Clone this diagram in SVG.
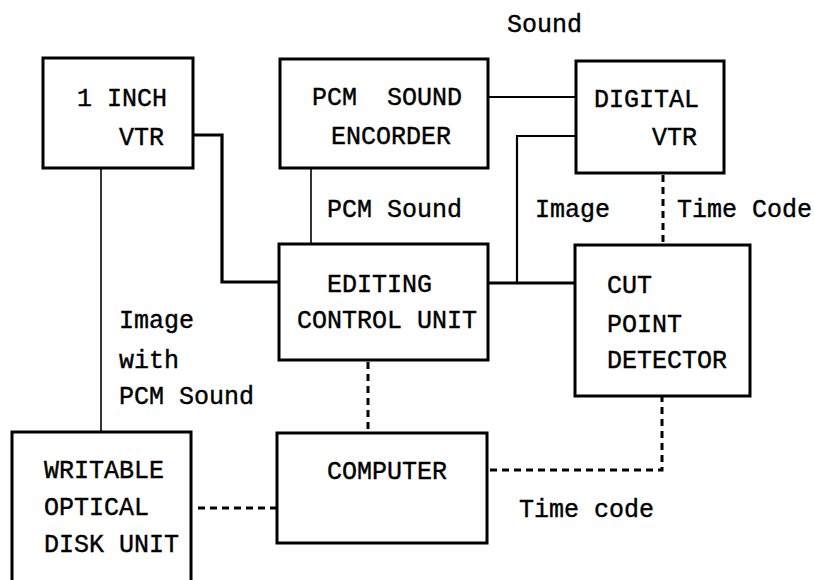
<svg xmlns="http://www.w3.org/2000/svg" width="814" height="580" viewBox="0 0 814 580">
<style>
.box{fill:#fff;stroke:#000;stroke-width:3}
.t{font-family:"Liberation Mono","DejaVu Sans Mono",monospace;font-size:25px;fill:#000;stroke:#000;stroke-width:0.4;white-space:pre}
.e{text-anchor:end}
.thin{fill:none;stroke:#000;stroke-width:1.6}
.mid{fill:none;stroke:#000;stroke-width:2.2}
.thick{fill:none;stroke:#000;stroke-width:3.2}
.dash{fill:none;stroke:#000;stroke-width:3;stroke-dasharray:7 5}
</style>
<rect width="814" height="580" fill="#fff"/>
<g id="connectors">
<polyline class="thick" points="193,135 222,135 222,282 279,282"/>
<line class="thin" x1="101" y1="168" x2="101" y2="432"/>
<line class="thin" x1="311" y1="168" x2="311" y2="244"/>
<line class="mid" x1="488" y1="97" x2="576" y2="97"/>
<polyline class="mid" points="576,136 517,136 517,283"/>
<line class="thick" x1="488" y1="283" x2="575" y2="283"/>
<line class="dash" x1="663" y1="175" x2="663" y2="245"/>
<line class="dash" x1="368" y1="362" x2="368" y2="433"/>
<line class="dash" x1="198" y1="508" x2="276" y2="508"/>
<polyline class="dash" points="490,470 662,470 662,397"/>
</g>
<g id="vtr1"><rect class="box" x="43" y="58" width="150" height="110"/>
<text class="t" x="77" y="106">1 INCH</text><text class="t e" x="164" y="145">VTR</text></g>
<g id="pcm-encoder"><rect class="box" x="280" y="59" width="208" height="109"/>
<text class="t" x="312" y="105" xml:space="preserve">PCM  SOUND</text><text class="t" x="331" y="144">ENCORDER</text></g>
<g id="digital-vtr"><rect class="box" x="576" y="61" width="148" height="112"/>
<text class="t" x="594" y="107">DIGITAL</text><text class="t e" x="697" y="145">VTR</text></g>
<g id="editing"><rect class="box" x="279" y="244" width="209" height="116"/>
<text class="t" x="327" y="292">EDITING</text><text class="t" x="297" y="328">CONTROL UNIT</text></g>
<g id="cut-point"><rect class="box" x="575" y="245" width="175" height="151"/>
<text class="t" x="607" y="293">CUT</text><text class="t" x="607" y="332">POINT</text><text class="t" x="607" y="368">DETECTOR</text></g>
<g id="optical-disk"><rect class="box" x="12" y="432" width="179" height="160"/>
<text class="t" x="44" y="478">WRITABLE</text><text class="t" x="44" y="515">OPTICAL</text><text class="t" x="44" y="552">DISK UNIT</text></g>
<g id="computer"><rect class="box" x="277" y="433" width="210" height="110"/>
<text class="t" x="327" y="479">COMPUTER</text></g>
<g id="labels">
<text class="t" x="507" y="32">Sound</text>
<text class="t" x="327" y="217">PCM Sound</text>
<text class="t" x="535" y="217">Image</text>
<text class="t" x="677" y="217">Time Code</text>
<text class="t" x="119" y="328">Image</text>
<text class="t" x="119" y="368">with</text>
<text class="t" x="119" y="404">PCM Sound</text>
<text class="t" x="519" y="517">Time code</text>
</g>
</svg>
